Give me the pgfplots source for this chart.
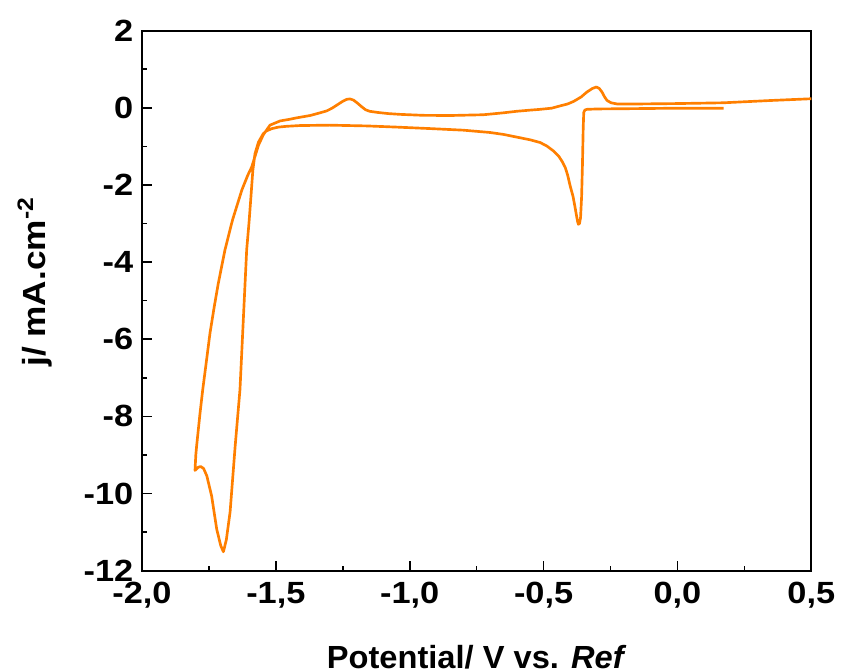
\documentclass[border=0pt]{standalone}
\usepackage{pgfplots}
\pgfplotsset{compat=1.18}
\usepackage{fontspec}
\setmainfont{Liberation Sans}
\newfontfamily\tickfont[FakeStretch=1.12]{Liberation Sans}
\newfontfamily\ylabfont[FakeStretch=1.1]{Liberation Sans}
\newfontfamily\xlabfont[FakeStretch=1.02]{Liberation Sans}
\definecolor{cvorange}{RGB}{255,127,0}
\begin{document}
\begin{tikzpicture}
\begin{axis}[
  at={(0,0)}, anchor=south west,
  scale only axis,
  width=502pt, height=405pt,
  xmin=-2, xmax=0.5, ymin=-12, ymax=2,
  axis line style={line width=1.4pt},
  xtick={-2,-1.5,-1,-0.5,0,0.5},
  xticklabels={{-2,0},{-1,5},{-1,0},{-0,5},{0,0},{0,5}},
  ytick={-12,-10,-8,-6,-4,-2,0,2},
  yticklabels={-12,-10,-8,-6,-4,-2,0,2},
  minor tick num=1,
  tick align=inside,
  xtick pos=bottom, ytick pos=left,
  major tick length=7.5pt, minor tick length=3.8pt,
  tick style={line width=1.2pt, black},
  ticklabel style={font=\tickfont\fontsize{23}{26}\selectfont\bfseries},
  xticklabel style={yshift=-5pt},
  yticklabel style={xshift=-3pt},
  xlabel={Potential/ V vs. \textit{Ref}},
  ylabel={j/ mA.cm\textsuperscript{-2}},
  xlabel style={font=\xlabfont\fontsize{24}{28}\selectfont\bfseries, at={(axis description cs:0.5,-0.1376)}, anchor=north, inner sep=0pt},
  ylabel style={font=\ylabfont\fontsize{24}{28}\selectfont\bfseries, at={(axis description cs:-0.1345,0.5346)}, anchor=south, inner sep=0pt},
]
\addplot[cvorange, line width=2pt, line join=round, no marks] table {
x y
0.172 -0.01
0.0 -0.01
-0.14 -0.02
-0.30 -0.03
-0.339 -0.04
-0.346 -0.06
-0.350 -0.12
-0.352 -0.5
-0.355 -1.5
-0.358 -2.3
-0.362 -2.85
-0.366 -3.0
-0.370 -3.02
-0.373 -2.95
-0.377 -2.80
-0.382 -2.60
-0.390 -2.30
-0.401 -2.02
-0.410 -1.75
-0.419 -1.55
-0.430 -1.40
-0.444 -1.25
-0.463 -1.12
-0.488 -0.99
-0.513 -0.90
-0.55 -0.83
-0.60 -0.76
-0.65 -0.69
-0.70 -0.64
-0.80 -0.58
-0.92 -0.54
-1.05 -0.50
-1.16 -0.47
-1.30 -0.45
-1.41 -0.46
-1.46 -0.48
-1.49 -0.50
-1.515 -0.54
-1.535 -0.60
-1.547 -0.67
-1.565 -0.89
-1.578 -1.19
-1.586 -1.62
-1.594 -2.39
-1.600 -2.95
-1.609 -3.68
-1.621 -5.41
-1.634 -7.30
-1.652 -8.77
-1.671 -10.48
-1.685 -11.2
-1.696 -11.51
-1.706 -11.35
-1.721 -10.92
-1.740 -10.06
-1.758 -9.54
-1.770 -9.35
-1.781 -9.30
-1.790 -9.32
-1.802 -9.40
-1.799 -9.0
-1.796 -8.77
-1.789 -8.3
-1.783 -7.90
-1.773 -7.3
-1.760 -6.6
-1.746 -5.84
-1.730 -5.15
-1.715 -4.55
-1.690 -3.68
-1.662 -2.91
-1.627 -2.13
-1.605 -1.75
-1.590 -1.53
-1.565 -0.97
-1.547 -0.70
-1.522 -0.45
-1.484 -0.34
-1.45 -0.30
-1.422 -0.26
-1.372 -0.20
-1.335 -0.13
-1.310 -0.08
-1.29 -0.01
-1.27 0.08
-1.25 0.17
-1.235 0.22
-1.223 0.23
-1.21 0.20
-1.195 0.12
-1.18 0.03
-1.165 -0.05
-1.15 -0.09
-1.12 -0.12
-1.08 -0.15
-1.036 -0.17
-0.95 -0.195
-0.85 -0.20
-0.725 -0.18
-0.65 -0.13
-0.60 -0.09
-0.55 -0.06
-0.513 -0.04
-0.47 -0.01
-0.438 0.05
-0.41 0.10
-0.388 0.165
-0.36 0.28
-0.338 0.41
-0.318 0.50
-0.303 0.54
-0.292 0.50
-0.282 0.41
-0.272 0.28
-0.263 0.19
-0.248 0.13
-0.226 0.10
-0.14 0.10
0.0 0.11
0.172 0.13
0.35 0.19
0.5 0.235
};
\end{axis}
\pgfresetboundingbox
\path (-106.5pt,-74.5pt) rectangle (524.25pt,428pt);
\end{tikzpicture}
\end{document}
